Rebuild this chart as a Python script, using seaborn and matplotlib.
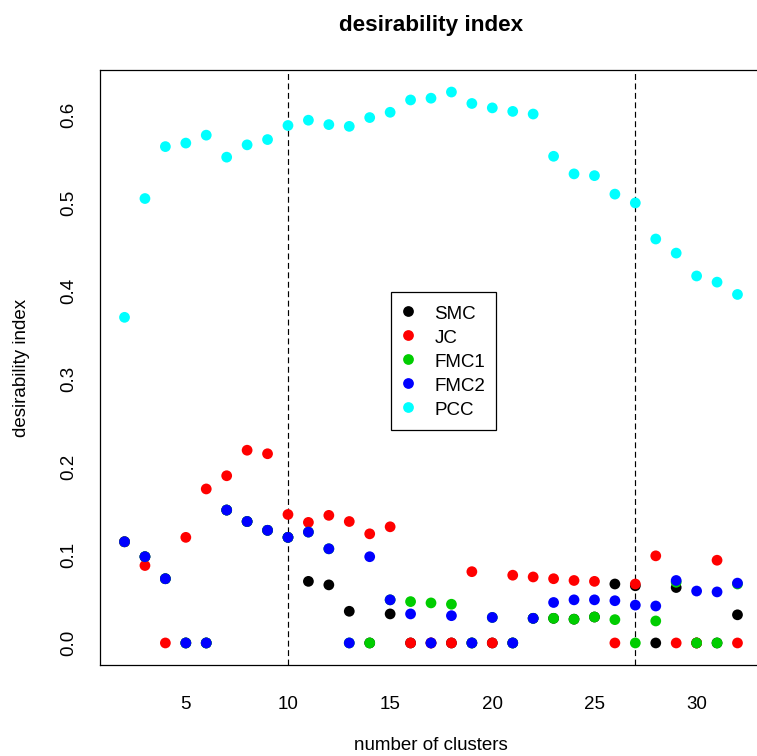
import matplotlib
matplotlib.use("Agg")
import matplotlib.pyplot as plt
import numpy as np
import pandas as pd
import seaborn as sns

# number of clusters
clusters = list(range(2, 33))

# desirability index per similarity measure
smc = [0.115, 0.098, 0.073, 0.0, 0.0, 0.151, 0.138, 0.128, 0.120, 0.070,
       0.066, 0.036, 0.0, 0.033, 0.0, 0.0, 0.0, 0.0, 0.0, 0.0,
       0.028, 0.028, 0.027, 0.0295, 0.067, 0.065, 0.0, 0.063, 0.0, 0.0,
       0.032]
jc = [0.115, 0.088, 0.0, 0.120, 0.175, 0.190, 0.219, 0.215, 0.146, 0.137,
      0.145, 0.138, 0.124, 0.132, 0.0, 0.0, 0.0, 0.081, 0.0, 0.077,
      0.075, 0.073, 0.071, 0.070, 0.0, 0.067, 0.099, 0.0, 0.0, 0.094,
      0.0]
fmc1 = [0.115, 0.098, 0.073, 0.0, 0.0, 0.151, 0.138, 0.128, 0.120, 0.126,
        0.107, 0.0, 0.0, 0.049, 0.047, 0.0455, 0.044, 0.0, 0.029, 0.0,
        0.028, 0.028, 0.027, 0.0295, 0.0265, 0.0, 0.025, 0.069, 0.0, 0.0,
        0.067]
fmc2 = [0.115, 0.098, 0.073, 0.0, 0.0, 0.151, 0.138, 0.128, 0.120, 0.126,
        0.107, 0.0, 0.098, 0.049, 0.033, 0.0, 0.031, 0.0, 0.029, 0.0,
        0.028, 0.046, 0.049, 0.049, 0.048, 0.043, 0.042, 0.071, 0.059, 0.058,
        0.068]
pcc = [0.370, 0.505, 0.564, 0.568, 0.577, 0.552, 0.566, 0.572, 0.588, 0.594,
       0.589, 0.587, 0.597, 0.603, 0.617, 0.619, 0.626, 0.613, 0.608, 0.604,
       0.601, 0.553, 0.533, 0.531, 0.510, 0.500, 0.459, 0.443, 0.417, 0.410,
       0.396]

measures = ["SMC", "JC", "FMC1", "FMC2", "PCC"]
colors = ["#000000", "#FF0000", "#00CD00", "#0000FF", "#00FFFF"]
chosen_k = [10, 27]
x_ticks = [5, 10, 15, 20, 25, 30]
y_ticks = [0.0, 0.1, 0.2, 0.3, 0.4, 0.5, 0.6]

series = dict(zip(measures, [smc, jc, fmc1, fmc2, pcc]))
df = pd.concat(
    [pd.DataFrame({"k": clusters, "value": v, "measure": m}) for m, v in series.items()],
    ignore_index=True,
)

sns.set_theme(style="white")
plt.rcParams["font.family"] = ["Liberation Sans", "DejaVu Sans"]
FS = 13.5

W, H = 757, 756
fig = plt.figure(figsize=(W / 100, H / 100), dpi=100)
ax = fig.add_axes([100 / W, (H - 665) / H, 662 / W, 595 / H])

sns.scatterplot(data=df, x="k", y="value", hue="measure", hue_order=measures,
                palette=dict(zip(measures, colors)), s=60, linewidth=0,
                ax=ax, zorder=3)

for k in chosen_k:
    ax.axvline(k, color="black", lw=0.85, dashes=(5, 3), zorder=2)

# R-style 4% padding around the data range
xmin, xmax = min(clusters), max(clusters)
ymin, ymax = df["value"].min(), df["value"].max()
ax.set_xlim(xmin - 0.04 * (xmax - xmin), xmax + 0.04 * (xmax - xmin))
ax.set_ylim(ymin - 0.04 * (ymax - ymin), ymax + 0.04 * (ymax - ymin))

ax.set_xticks(x_ticks)
ax.set_xticklabels([str(t) for t in x_ticks])
ax.set_yticks(y_ticks)
ax.set_yticklabels([f"{t:.1f}" for t in y_ticks], rotation=90, va="center")
ax.tick_params(axis="both", direction="out", length=6.5, width=0.85,
               color="black", labelsize=FS, labelcolor="black")
ax.tick_params(axis="x", pad=16)
ax.tick_params(axis="y", pad=10)
for sp in ax.spines.values():
    sp.set_visible(True)
    sp.set_color("black")
    sp.set_linewidth(0.9)
# the plot frame's right side falls just outside the figure
ax.spines["right"].set_visible(False)

ax.set_xlabel("number of clusters", fontsize=FS, color="black")
ax.set_ylabel("desirability index", fontsize=FS, color="black")
ax.xaxis.set_label_coords(((431 - 100) / 662), (665 - 745) / 595)
ax.xaxis.label.set_va("center")
ax.yaxis.set_label_coords((22 - 100) / 662, 0.5)
ax.yaxis.label.set_va("center")
ax.yaxis.label.set_ha("center")

fig.text(431 / W, 1 - 25 / H, "desirability index", ha="center", va="center",
         fontsize=16.2, fontweight="bold", color="black")

sns.move_legend(ax, "upper left",
                bbox_to_anchor=((391 - 100) / 662, (665 - 292) / 595),
                title=None, frameon=True, fancybox=False, framealpha=1,
                edgecolor="black", fontsize=FS, borderaxespad=0,
                borderpad=0.57, handlelength=0.7, handleheight=1.23,
                handletextpad=1.04, labelspacing=0.21)
leg = ax.get_legend()
leg.get_frame().set_linewidth(0.9)
for t in leg.get_texts():
    t.set_color("black")

fig.savefig("out.png", dpi=100)
